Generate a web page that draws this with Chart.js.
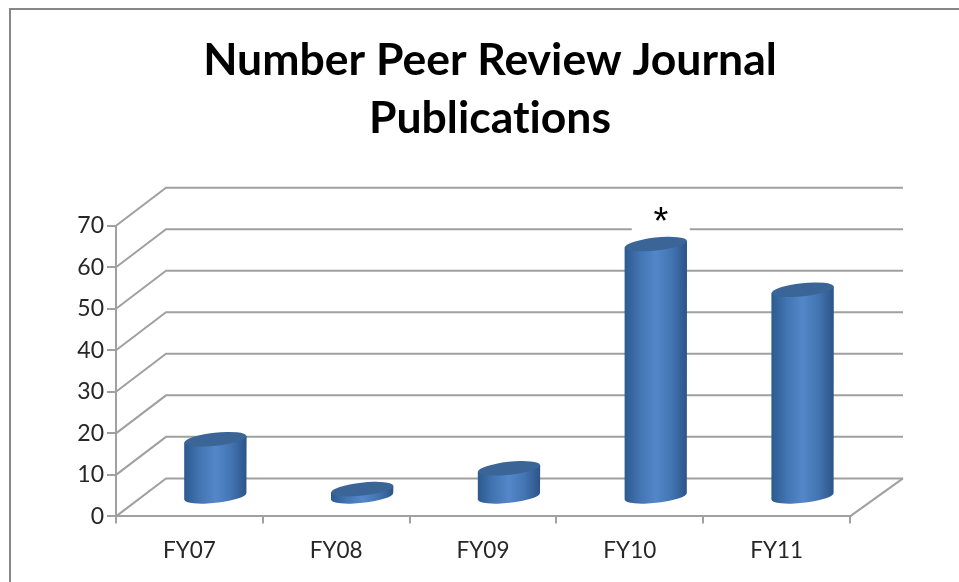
<!DOCTYPE html>
<html>
<head>
<meta charset="utf-8">
<script src="https://cdn.jsdelivr.net/npm/chart.js@4"></script>
<style>
  html, body { margin: 0; padding: 0; background: #fff; }
  #wrap { position: relative; width: 959px; height: 582px; overflow: hidden; }
  #frame { position: absolute; left: 9px; top: 8px; width: 960px; height: 600px; border: 2px solid #868686; }
  canvas { position: absolute; left: 0; top: 0; }
</style>
</head>
<body>
<div id="wrap">
  <div id="frame"></div>
  <canvas id="pubChart" width="959" height="582"></canvas>
</div>
<script>
const categories = ["FY07", "FY08", "FY09", "FY10", "FY11"];
const publications = [14, 2, 7, 61, 50];
const titleLines = ["Number Peer Review Journal", "Publications"];
const yMax = 70;
const yStep = 10;
const starredCategory = "FY10";

// 3D look of the old spreadsheet chart
const depthX = 50;
const depthY = 38;
const gridColor = "#a0a0a0";

const cylinders = {
  id: "cylinders",
  beforeDraw(chart) {
    // no "ti" ligature in the title
    chart.ctx.textRendering = "optimizeSpeed";
  },
  afterLayout(chart) {
    // the right padding pushes the title off centre, put it back over the plot
    chart.titleBlock.left = 21;
    chart.titleBlock.right = 959;
  },
  beforeDatasetsDraw(chart) {
    const { ctx, chartArea, scales } = chart;
    ctx.save();
    ctx.strokeStyle = gridColor;
    ctx.lineWidth = 2;
    // side wall + back wall lines
    scales.y.ticks.forEach((tick) => {
      const y = scales.y.getPixelForValue(tick.value);
      ctx.beginPath();
      ctx.moveTo(chartArea.left, y);
      ctx.lineTo(chartArea.left + depthX, y - depthY);
      ctx.lineTo(chartArea.right + depthX + 3, y - depthY);
      ctx.stroke();
    });
    // floor edge on the right
    const floorY = scales.y.getPixelForValue(0);
    ctx.beginPath();
    ctx.moveTo(chartArea.right, floorY);
    ctx.lineTo(chartArea.right + depthX + 3, floorY - depthY);
    ctx.stroke();
    ctx.restore();
  },
  afterDatasetsDraw(chart) {
    const { ctx, scales } = chart;
    const meta = chart.getDatasetMeta(0);
    const tilt = -0.108;
    meta.data.forEach((bar) => {
      const cx = bar.x + depthX / 2 + 1;
      const top = bar.y - depthY / 2;
      const base = bar.base - depthY / 2;
      const rx = bar.width / 2;
      const ry = 6.5;
      const dy = Math.sin(tilt) * rx;

      const grad = ctx.createLinearGradient(cx - rx, 0, cx + rx, 0);
      grad.addColorStop(0, "#2c5a8f");
      grad.addColorStop(0.25, "#4375b3");
      grad.addColorStop(0.5, "#5487c9");
      grad.addColorStop(0.75, "#4375b3");
      grad.addColorStop(1, "#2c5488");

      ctx.save();
      ctx.beginPath();
      ctx.moveTo(cx - rx, top - dy);
      ctx.lineTo(cx - rx, base - dy);
      ctx.ellipse(cx, base, rx, ry, tilt, Math.PI, 0, true);
      ctx.lineTo(cx + rx, top + dy);
      ctx.closePath();
      ctx.fillStyle = grad;
      ctx.fill();

      ctx.beginPath();
      ctx.ellipse(cx, top, rx, ry, tilt, 0, Math.PI * 2);
      ctx.fillStyle = "#3a6596";
      ctx.fill();
      ctx.restore();
    });

    // star note above the FY10 bar, on a white box
    const i = categories.indexOf(starredCategory);
    const sx = meta.data[i].x + 31;
    const sy = scales.y.getPixelForValue(yMax) - 8;
    ctx.save();
    ctx.fillStyle = "#fff";
    ctx.fillRect(sx - 29, sy - 14, 58, 28);
    ctx.fillStyle = "#000";
    ctx.font = "38px 'Liberation Sans'";
    ctx.textAlign = "center";
    ctx.textBaseline = "top";
    ctx.fillText("*", sx, sy - 13);
    ctx.restore();
  },
};

new Chart(document.getElementById("pubChart"), {
  type: "bar",
  data: {
    labels: categories,
    datasets: [
      {
        data: publications,
        backgroundColor: "rgba(0,0,0,0)",
        barPercentage: 1,
        categoryPercentage: 0.425,
      },
    ],
  },
  options: {
    responsive: false,
    animation: false,
    layout: { padding: { left: 0, right: 109, top: 0, bottom: 3 } },
    plugins: {
      legend: { display: false },
      tooltip: { enabled: false },
      title: {
        display: true,
        text: titleLines,
        color: "#000",
        font: { family: "Lato", size: 44.5, weight: "bold", lineHeight: 1.3 },
        padding: { top: 32, bottom: 78 },
      },
    },
    scales: {
      x: {
        grid: { drawOnChartArea: false, color: gridColor, lineWidth: 2, tickLength: 7, offset: true },
        border: { color: gridColor, width: 2 },
        ticks: { color: "#262626", font: { family: "Lato", size: 22.5 }, padding: 14.3 },
      },
      y: {
        min: 0,
        max: yMax,
        grid: { drawOnChartArea: false, color: gridColor, lineWidth: 2, tickLength: 9 },
        border: { color: gridColor, width: 2 },
        ticks: { stepSize: yStep, color: "#262626", font: { family: "Lato", size: 23 }, padding: 3 },
        afterFit(scale) { scale.width = 116; },
      },
    },
  },
  plugins: [cylinders],
});
</script>
</body>
</html>
